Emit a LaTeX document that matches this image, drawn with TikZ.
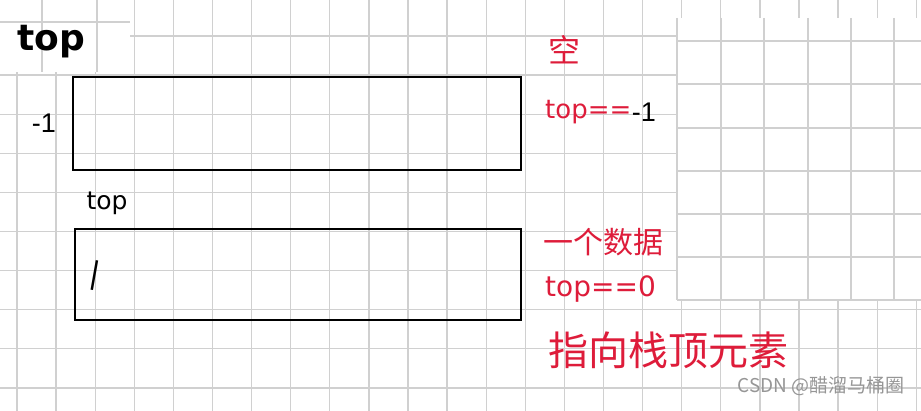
\documentclass[tikz,border=0pt]{standalone}
\usepackage{fontspec}
\setmainfont{Liberation Sans}
\newfontfamily\cjk{Noto Sans CJK SC}
\newfontfamily\hand{DejaVu Sans}
\definecolor{gridc}{RGB}{208,208,208}
\definecolor{inkred}{RGB}{222,28,58}
\definecolor{wm}{RGB}{150,150,150}
\begin{document}
\begin{tikzpicture}[x=1pt,y=-1pt,
  gridline/.style={draw=gridc,line width=1.3pt},
  stackbox/.style={draw=black,line width=2.8pt,inner sep=0pt,fill=none},
  redtxt/.style={text=inkred,inner sep=0pt,anchor=west},
  blacktxt/.style={text=black,inner sep=0pt}]
\useasboundingbox (0,0) rectangle (921,411);
\fill[white] (0,0) rectangle (921,411);
% main grid
\foreach \i in {0,...,23} {\draw[gridline] ({17+39.1*\i},0) -- ({17+39.1*\i},411);}
\foreach \j in {0,...,9} {\draw[gridline] (0,{36+39.1*\j}) -- (921,{36+39.1*\j});}
% top-left patch
\fill[white] (0,0) rectangle (130,72);
\draw[gridline] (0,22) -- (130,22);
\draw[gridline] (42,0) -- (42,72);
\draw[gridline] (97,0) -- (97,72);
% right patch
\fill[white] (677,18) rectangle (921,300);
\foreach \x in {677,721,764,808,851,894} {\draw[gridline] (\x,18) -- (\x,300);}
\foreach \y in {41,84,128,171,214,257,300} {\draw[gridline] (677,\y) -- (921,\y);}
% boxes
\node[stackbox,minimum width=448pt,minimum height=93pt] (box1) at (297,123.5) {};
\node[stackbox,minimum width=446pt,minimum height=91pt] (box2) at (298,274.5) {};
% black labels
\node[blacktxt,font=\hand\bfseries\fontsize{36}{36}\selectfont] (top1) at (51,42) {top};
\node[blacktxt,font=\fontsize{27}{27}\selectfont] (m1) at (44,123) {-1};
\node[blacktxt,font=\hand\fontsize{25}{25}\selectfont] (top2) at (107,203) {top};
\node[blacktxt,font=\hand\fontsize{30}{30}\selectfont,rotate=-10] (one) at (95,276) {|};
% red notes
\node[redtxt,font=\cjk\fontsize{32}{32}\selectfont] (empty) at (548,50) {空};
\node[redtxt,font=\hand\fontsize{26}{26}\selectfont] (c1) at (545,112) {top==};
\node[blacktxt,anchor=west,font=\fontsize{27}{27}\selectfont] (c1v) at (c1.east) {-1};
\node[redtxt,font=\cjk\fontsize{30}{30}\selectfont] (one1) at (543,242) {一个数据};
\node[redtxt,font=\hand\fontsize{28}{28}\selectfont] (c2) at (545,289) {top==0};
\node[redtxt,font=\cjk\fontsize{40}{40}\selectfont] (pt) at (548,350) {指向栈顶元素};
% watermark
\node[inner sep=0pt,anchor=east,text=wm,font=\cjk\fontsize{19}{19}\selectfont] (wmk) at (905,386) {CSDN @醋溜马桶圈};
\end{tikzpicture}
\end{document}
